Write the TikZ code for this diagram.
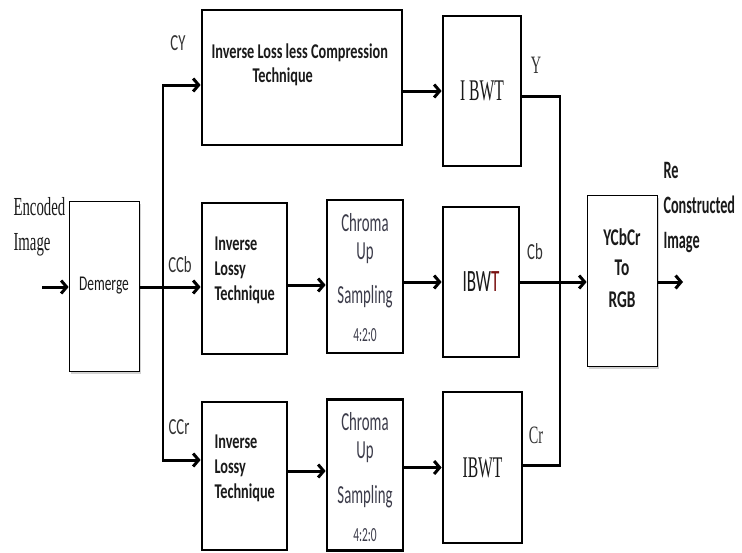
\documentclass[tikz,border=0pt]{standalone}
\usepackage{fontspec}
\usetikzlibrary{arrows.meta,shadows}
\newfontfamily\cbn[FakeStretch=0.64]{Carlito}
\newfontfamily\cbw[FakeStretch=0.68]{Carlito}
\newfontfamily\cbc[FakeStretch=0.57]{Carlito}
\newfontfamily\cbm[FakeStretch=0.55]{Carlito}
\newfontfamily\srn[FakeStretch=0.57]{Liberation Serif}
\newfontfamily\srw[FakeStretch=0.52]{Liberation Serif}
\definecolor{txt}{HTML}{1A1A1A}
\definecolor{chr}{HTML}{3C3C4A}
\definecolor{lbl}{HTML}{333333}
\definecolor{dred}{HTML}{7A1010}
\begin{document}
\begin{tikzpicture}[x=1pt,y=-1pt,
  heavybox/.style={draw,line width=2.8pt,inner sep=0pt},
  lightbox/.style={draw,line width=0.8pt,inner sep=0pt,fill=white,
    drop shadow={opacity=0.35,shadow xshift=1.5pt,shadow yshift=-2.5pt}},
  flow/.style={line width=3pt,-{Straight Barb[length=5.5pt,width=13pt]}},
  link/.style={line width=3pt},
  vline/.style={line width=1.8pt},
  boldtxt/.style={font=\cbw\bfseries\fontsize{21}{25}\selectfont,text=txt},
  chromatxt/.style={font=\cbc\fontsize{26}{28}\selectfont,text=chr},
  lbltxt/.style={font=\cbn\fontsize{23}{25}\selectfont,text=lbl},
  serlbl/.style={font=\srn\fontsize{25}{27}\selectfont,text=lbl}]
\fill[white] (0,0) rectangle (742,552);
\useasboundingbox (0,0) rectangle (742,552);

% input
\node[anchor=west,align=left,font=\srn\fontsize{26}{35}\selectfont,text=txt] (enc) at (10,227) {Encoded\\Image};
\node[lightbox,minimum width=70pt,minimum height=170pt,font=\cbn\fontsize{21}{24}\selectfont,text=txt] (dem) at (104,286) {Demerge};
\coordinate (in) at (42,287);

% first column
\node[heavybox,minimum width=200pt,minimum height=135pt] (ilc) at (302,77.5) {};
\node[boldtxt,anchor=west,align=left,font=\cbw\bfseries\fontsize{21}{24}\selectfont] (t0) at (208,65) {Inverse Loss less Compression\\\hspace*{41pt}Technique};
\node[heavybox,minimum width=85pt,minimum height=151pt] (il1) at (244.5,278.5) {};
\node[boldtxt,anchor=west,align=left] (t1) at (211,270) {Inverse\\Lossy\\Technique};
\node[heavybox,minimum width=85pt,minimum height=148pt] (il2) at (244.5,476) {};
\node[boldtxt,anchor=west,align=left] (t2) at (211,468) {Inverse\\Lossy\\Technique};

% chroma up sampling
\node[heavybox,minimum width=76pt,minimum height=153pt] (ch1) at (365,276.5) {};
\node[chromatxt] (c1a) at (365,223) {Chroma};
\node[chromatxt] (c1b) at (365,253) {Up};
\node[chromatxt] (c1c) at (365,297) {Sampling};
\node[chromatxt,font=\cbc\fontsize{20}{22}\selectfont] (c1d) at (365,335) {4:2:0};
\node[heavybox,minimum width=76pt,minimum height=151pt] (ch2) at (365,475) {};
\node[chromatxt] (c2a) at (365,422) {Chroma};
\node[chromatxt] (c2b) at (365,452) {Up};
\node[chromatxt] (c2c) at (365,497) {Sampling};
\node[chromatxt,font=\cbc\fontsize{20}{22}\selectfont] (c2d) at (365,535) {4:2:0};

% IBWT
\node[heavybox,minimum width=78pt,minimum height=150pt,font=\srw\fontsize{30}{32}\selectfont,text=txt] (ib1) at (482,91) {I BWT};
\node[heavybox,minimum width=76pt,minimum height=150pt,font=\cbm\fontsize{31}{33}\selectfont,text=txt] (ib2) at (481,282) {IBW{\color{dred}T}};
\node[heavybox,minimum width=79pt,minimum height=151pt,font=\srw\fontsize{30}{32}\selectfont,text=txt] (ib3) at (482.5,467.5) {IBWT};

% colour conversion
\node[lightbox,minimum width=70pt,minimum height=171pt] (ycc) at (622,280.5) {};
\node[boldtxt,font=\cbn\bfseries\fontsize{24}{26}\selectfont] (y1) at (622,237) {YCbCr};
\node[boldtxt,font=\cbn\bfseries\fontsize{24}{26}\selectfont] (y2) at (622,268) {To};
\node[boldtxt,font=\cbn\bfseries\fontsize{24}{26}\selectfont] (y3) at (622,300) {RGB};
\node[boldtxt,anchor=west,align=left,font=\cbc\bfseries\fontsize{25}{35}\selectfont] (rec) at (660,208) {Re\\Constructed\\Image};
\coordinate (out) at (683,282);

% labels
\node[lbltxt] (lcy) at (178,43) {CY};
\node[lbltxt] (lccb) at (180,265) {CCb};
\node[lbltxt] (lccr) at (179,427) {CCr};
\node[serlbl] (ly) at (536,65) {Y};
\node[lbltxt] (lcb) at (535,252) {Cb};
\node[serlbl] (lcr) at (536,435) {Cr};

% connectors
\coordinate (jt) at (163,85);
\coordinate (jb) at (163,460);
\coordinate (bt) at (560,96);
\coordinate (bb) at (560,465);
\coordinate (r1) at (0,285);
\coordinate (r3) at (0,471);

\draw[flow] (in) -- (in -| dem.west);
\draw[flow] (dem.east |- in) -- (in -| il1.west);
\draw[vline] (jt) -- (jb);
\draw[flow] ([xshift=-0.9pt]jt) -- (jt -| ilc.west);
\draw[flow] ([xshift=-0.9pt]jb) -- (jb -| il2.west);
\draw[flow] (ib1.west -| ilc.east) -- (ib1.west);
\draw[flow] (il1.east |- r1) -- (ch1.west |- r1);
\draw[flow] (ch1.east |- ib2.west) -- (ib2.west);
\draw[flow] (il2.east |- r3) -- (ch2.west |- r3);
\draw[flow] (ch2.east |- ib3.west) -- (ib3.west);
\draw[link] (ib1.east |- bt) -- ([xshift=0.9pt]bt);
\draw[vline] (bt) -- (bb);
\draw[link] (ib3.east |- bb) -- ([xshift=0.9pt]bb);
\draw[flow] (ib2.east) -- (ib2.east -| ycc.west);
\draw[flow] (ycc.east |- out) -- (out);
\end{tikzpicture}
\end{document}
